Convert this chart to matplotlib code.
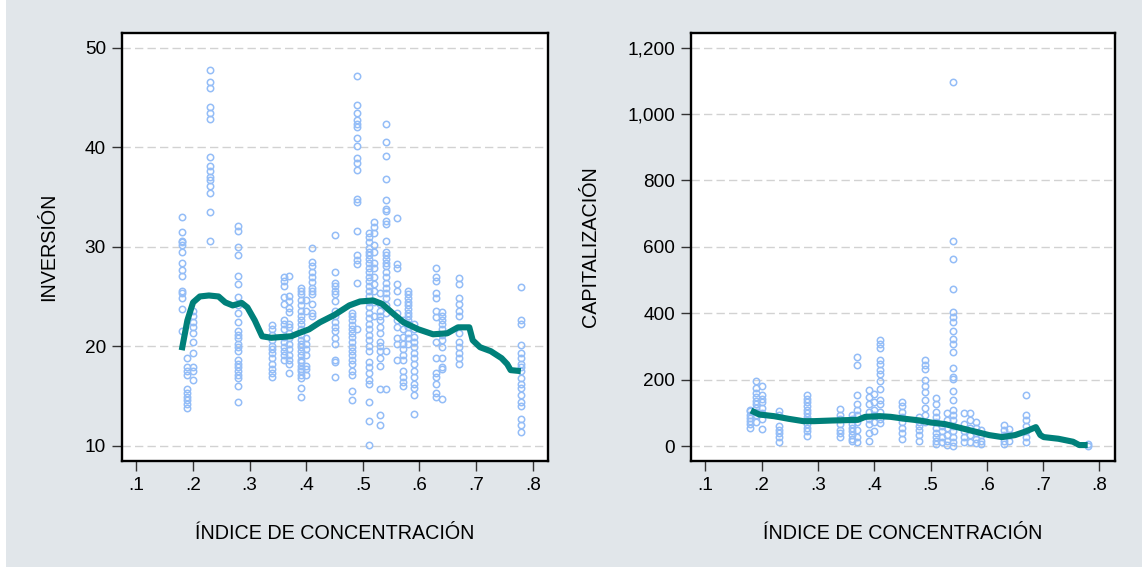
import matplotlib
matplotlib.use('Agg')
import matplotlib.pyplot as plt
from matplotlib.ticker import FuncFormatter
from matplotlib.patches import Rectangle

plt.rcParams['font.family'] = ['Liberation Sans', 'DejaVu Sans']

BG = '#E1E6EA'
DOT = '#94BDF7'
FIT = '#00807A'

# shared x groups (concentration index)
conc_x = [0.18, 0.19, 0.20, 0.23, 0.28, 0.34, 0.36, 0.37, 0.39, 0.40, 0.41,
          0.45, 0.48, 0.49, 0.51, 0.52, 0.53, 0.54, 0.56, 0.57, 0.58, 0.59,
          0.63, 0.64, 0.67, 0.78]

inversion_y = [
    [33.0, 31.5, 30.6, 30.5, 30.2, 29.5, 28.4, 27.7, 27.1, 25.5, 25.3, 24.8, 23.7, 21.5],
    [18.8, 17.9, 17.5, 17.1, 15.7, 15.3, 14.9, 14.6, 14.2, 13.8],
    [23.5, 23.0, 22.4, 21.9, 21.3, 20.4, 19.3, 17.9, 17.5, 16.6],
    [47.8, 46.5, 45.9, 44.0, 43.4, 42.8, 39.0, 38.1, 37.6, 37.0, 36.7, 36.1, 35.4, 33.5, 30.6],
    [32.1, 31.6, 30.0, 29.2, 27.1, 26.3, 24.9, 24.1, 23.3, 22.4, 21.5, 21.1, 20.8, 20.2,
     19.9, 19.5, 18.6, 18.2, 17.9, 17.5, 17.1, 16.8, 16.0, 14.4],
    [22.1, 21.7, 21.1, 20.6, 20.0, 19.7, 19.3, 18.8, 18.2, 17.7, 17.3, 16.9],
    [27.0, 26.6, 26.1, 24.9, 24.2, 22.6, 22.2, 21.7, 20.9, 20.4, 19.9, 19.5, 19.1, 18.6],
    [27.1, 25.0, 24.5, 23.8, 23.4, 22.2, 21.9, 21.3, 20.8, 20.2, 19.7, 19.1, 18.6, 18.2, 17.3],
    [25.9, 25.5, 25.2, 24.6, 24.1, 23.5, 23.0, 22.6, 22.2, 21.7, 21.1, 20.6, 20.2, 19.9,
     19.5, 19.1, 18.6, 18.4, 18.0, 17.7, 17.5, 17.1, 16.8, 15.8, 14.9],
    [24.6, 23.5, 20.8, 20.2, 19.7, 19.1, 18.0, 17.7, 17.1],
    [29.9, 28.5, 28.1, 27.5, 27.0, 26.5, 25.9, 25.5, 25.2, 24.2, 23.3, 23.0],
    [31.2, 27.5, 26.4, 26.1, 25.5, 25.2, 24.5, 23.5, 23.0, 22.4, 21.9, 21.5, 20.8, 20.2,
     18.6, 18.4, 16.9],
    [23.3, 23.0, 22.6, 22.1, 21.7, 21.3, 20.9, 20.4, 19.9, 19.5, 19.1, 18.6, 18.2, 17.5,
     17.1, 15.5, 14.6],
    [47.1, 44.2, 43.4, 42.7, 42.3, 42.0, 40.9, 40.1, 38.9, 38.4, 37.7, 34.8, 34.5, 31.6,
     29.2, 28.7, 28.3, 26.4, 21.7],
    [31.4, 31.0, 30.5, 29.9, 29.5, 29.2, 28.8, 28.4, 27.9, 27.5, 27.0, 26.6, 26.1, 25.5,
     25.0, 24.4, 23.9, 23.3, 22.8, 22.2, 21.7, 21.1, 20.6, 20.0, 19.5, 18.4, 17.9, 17.3,
     16.6, 16.2, 14.4, 12.5, 10.1],
    [32.5, 32.0, 31.4, 30.2, 29.5, 28.4, 27.9, 27.0, 26.3, 25.5, 24.4, 23.0],
    [25.3, 24.2, 23.5, 23.0, 22.6, 21.9, 21.3, 20.4, 20.0, 19.5, 18.8, 18.0, 15.7, 13.1, 12.1],
    [42.3, 40.5, 39.1, 36.8, 34.7, 33.8, 33.6, 32.6, 32.3, 30.6, 29.5, 29.2, 28.8, 28.4,
     28.1, 27.5, 27.0, 26.4, 25.9, 25.3, 24.8, 24.1, 23.3, 19.5, 15.7],
    [32.9, 28.3, 27.9, 26.3, 25.5, 24.4, 23.3, 22.6, 21.9, 20.8, 20.2, 18.6],
    [22.6, 21.7, 20.9, 20.2, 19.7, 19.1, 18.6, 17.5, 16.9, 16.4, 16.0],
    [25.5, 25.2, 24.8, 24.4, 24.1, 23.7, 23.3, 23.0, 22.6, 22.2, 21.9, 21.3, 20.8, 20.2],
    [22.2, 21.7, 20.9, 20.4, 19.9, 19.3, 18.8, 18.2, 17.5, 16.9, 16.2, 15.8, 15.1, 13.2],
    [27.9, 27.0, 26.6, 25.3, 24.8, 23.5, 22.9, 20.4, 18.8, 17.3, 16.9, 16.2, 15.3, 14.9],
    [23.4, 23.0, 22.6, 22.2, 21.7, 21.1, 20.6, 19.9, 18.8, 17.9, 17.7, 14.7],
    [26.9, 26.3, 24.8, 24.2, 23.5, 23.0, 21.3, 20.4, 19.9, 19.3, 18.8, 18.2],
    [26.0, 22.6, 22.2, 20.1, 19.3, 18.8, 18.2, 17.9, 17.5, 16.8, 16.2, 15.8, 15.1, 14.4,
     14.0, 12.7, 12.1, 11.4],
]

capital_y = [
    [55, 65, 75, 85, 95, 105, 110],
    [197, 175, 159, 148, 137, 126, 115, 104, 93, 71],
    [181, 153, 142, 132, 115, 99, 82, 52],
    [107, 93, 60, 49, 38, 27, 11],
    [153, 142, 132, 121, 110, 99, 88, 77, 66, 55, 44, 31],
    [113, 93, 82, 66, 49, 38, 27],
    [95, 82, 66, 55, 44, 33, 22, 14],
    [268, 243, 153, 126, 110, 93, 71, 49, 27, 11],
    [168, 148, 126, 104, 82, 66, 38, 16],
    [156, 134, 110, 93, 71, 44],
    [320, 307, 294, 260, 247, 230, 216, 197, 172, 139, 126, 104, 82, 69],
    [132, 121, 104, 88, 71, 55, 38, 22],
    [88, 71, 60, 49, 33, 16],
    [258, 243, 232, 199, 181, 164, 139, 115, 93, 71],
    [145, 126, 104, 88, 71, 55, 38, 27, 16, 5],
    [60, 44, 27, 11],
    [101, 77, 55, 33, 16, 3],
    [1096, 619, 562, 473, 403, 389, 373, 347, 323, 307, 283, 236, 208, 201, 167, 139,
     110, 93, 77, 60, 44, 27, 11, 0],
    [101, 66, 44, 27, 11],
    [101, 77, 55, 33, 11],
    [71, 55, 38, 22, 8],
    [49, 33, 16, 5],
    [62, 49, 33, 16, 5],
    [52, 33, 16],
    [153, 93, 77, 60, 44, 27, 11],
    [5, 0],
]

# smoothed fits
inv_fit_x = [0.18, 0.19, 0.20, 0.212, 0.228, 0.245, 0.257, 0.27, 0.286, 0.296, 0.309,
             0.322, 0.338, 0.373, 0.386, 0.405, 0.424, 0.45, 0.476, 0.495, 0.518, 0.534,
             0.553, 0.572, 0.598, 0.624, 0.649, 0.668, 0.688, 0.694, 0.707, 0.726, 0.745,
             0.755, 0.761, 0.779]
inv_fit_y = [19.6, 22.6, 24.4, 25.0, 25.1, 25.0, 24.4, 24.1, 24.35, 23.9, 22.6,
             21.0, 20.85, 21.0, 21.3, 21.7, 22.4, 23.15, 24.1, 24.5, 24.6, 24.25,
             23.3, 22.4, 21.7, 21.2, 21.3, 21.9, 21.9, 20.6, 19.9, 19.5, 18.8,
             18.2, 17.6, 17.5]

cap_fit_x = [0.181, 0.196, 0.222, 0.248, 0.274, 0.293, 0.326, 0.371, 0.384, 0.41, 0.429,
             0.455, 0.481, 0.5, 0.526, 0.552, 0.578, 0.604, 0.627, 0.65, 0.669, 0.687,
             0.695, 0.701, 0.727, 0.753, 0.764, 0.779]
cap_fit_y = [107, 95, 90, 82, 75, 75, 77, 79, 88, 90, 88,
             82, 77, 71, 66, 55, 44, 33, 27, 33, 44, 57,
             33, 27, 22, 13, 3, 3]

x_ticks = [0.1, 0.2, 0.3, 0.4, 0.5, 0.6, 0.7, 0.8]
x_ticklabels = ['.1', '.2', '.3', '.4', '.5', '.6', '.7', '.8']

W, H = 1142, 567
fig = plt.figure(figsize=(W / 100, H / 100), dpi=100, facecolor=BG)
fig.patches.append(Rectangle((0, 0), 5.5 / W, 1, transform=fig.transFigure,
                             facecolor='white', edgecolor='none', zorder=-1))


def panel(rect, ys, fx, fy, ylim, yticks, ylabel, ylabel_x, fmt):
    ax = fig.add_axes(rect)
    ax.set_facecolor('white')
    for x, col in zip(conc_x, ys):
        ax.plot([x] * len(col), col, linestyle='none', marker='o', markersize=4.6,
                markerfacecolor='none', markeredgecolor=DOT, markeredgewidth=1.1,
                zorder=2)
    ax.plot(fx, fy, color=FIT, linewidth=4.4, solid_capstyle='butt', zorder=3)
    ax.set_xlim(0.0745, 0.827)
    ax.set_ylim(*ylim)
    ax.set_xticks(x_ticks)
    ax.set_xticklabels(x_ticklabels)
    ax.set_yticks(yticks)
    ax.yaxis.set_major_formatter(FuncFormatter(fmt))
    ax.grid(axis='y', color='#D2D2D2', linestyle=(0, (6, 3)), linewidth=1.0, zorder=0)
    ax.set_axisbelow(True)
    for s in ax.spines.values():
        s.set_linewidth(1.7)
        s.set_color('black')
    ax.tick_params(direction='out', length=7.5, width=1.0, labelsize=13.7,
                   color='#333333', pad=4)
    ax.set_xlabel('ÍNDICE DE CONCENTRACIÓN', fontsize=14.2)
    ax.xaxis.set_label_coords(0.5, -0.148)
    ax.set_ylabel(ylabel, fontsize=14.2)
    ax.yaxis.set_label_coords(ylabel_x, 0.5)
    return ax


panel([122 / W, 1 - 460.7 / H, 426 / W, 428 / H], inversion_y, inv_fit_x, inv_fit_y,
      (8.5, 51.5), [10, 20, 30, 40, 50], 'INVERSIÓN', -0.150,
      lambda v, p: f'{v:.0f}')
panel([691 / W, 1 - 461 / H, 423.7 / W, 428 / H], capital_y, cap_fit_x, cap_fit_y,
      (-45, 1244), [0, 200, 400, 600, 800, 1000, 1200], 'CAPITALIZACIÓN', -0.215,
      lambda v, p: f'{v:,.0f}')

fig.savefig('out.png', dpi=100, facecolor=BG)
